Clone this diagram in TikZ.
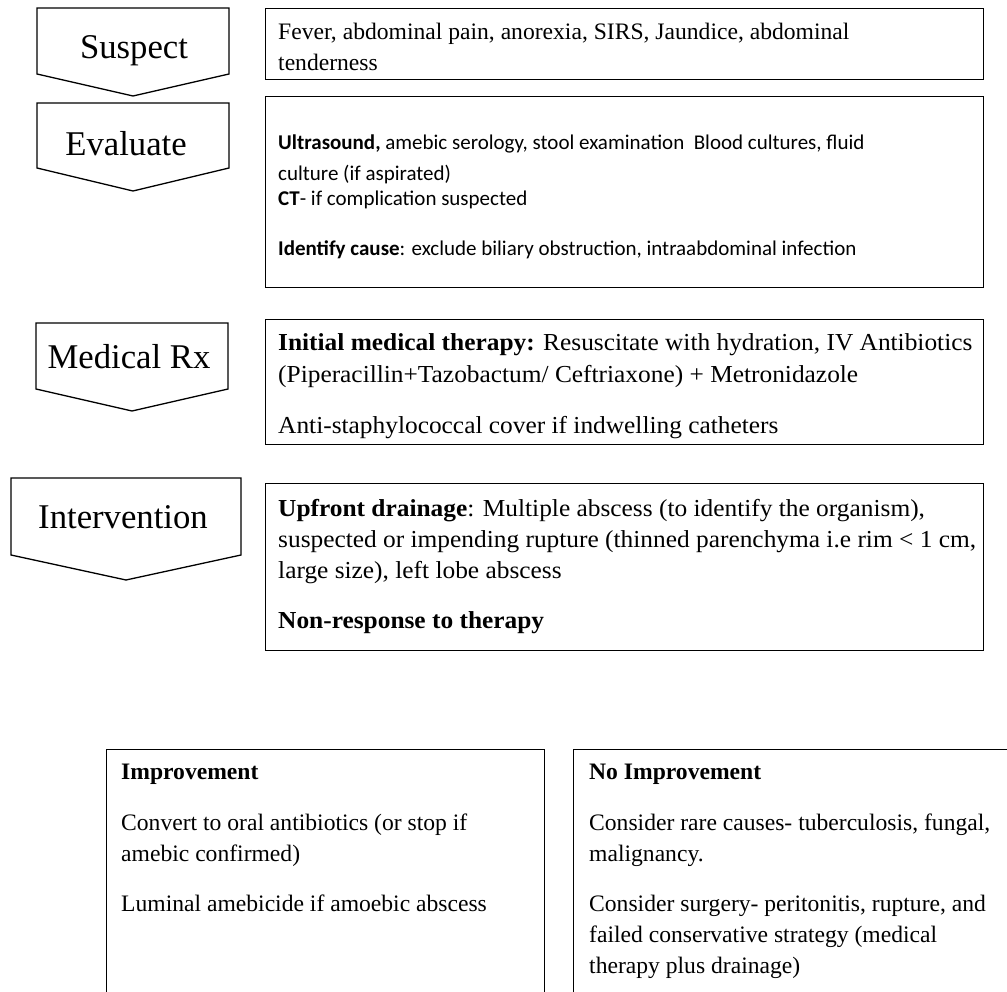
\documentclass[tikz,border=0pt]{standalone}
\usepackage{fontspec}
\setmainfont{Liberation Serif}
\newfontfamily\calfont{Carlito}
\newfontfamily\wideserif[FakeStretch=1.04]{Liberation Serif}
\begin{document}
\begin{tikzpicture}[x=1pt,y=-1pt,
  shapeline/.style={draw=black, line width=1.3pt, line join=miter},
  box/.style={shapeline, anchor=north west, inner sep=0pt},
  lbl/.style={anchor=base, inner sep=0pt, font=\fontsize{34.7}{40}\selectfont},
  tx/.style={anchor=base west, inner sep=0pt, font=\fontsize{23.6}{28}\selectfont},
  wx/.style={anchor=base west, inner sep=0pt, font=\wideserif\fontsize{24.4}{29}\selectfont},
  cx/.style={anchor=base west, inner sep=0pt, font=\calfont\fontsize{21}{26}\selectfont}]
\useasboundingbox (0,0) rectangle (1007,992);
\clip (0,0) rectangle (1007,992);

% pentagon arrows (stage labels)
\draw[shapeline] (37,8) -- (229,8) -- (229,74) -- (133,96) -- (37,74) -- cycle;
\node[lbl] (lsuspect) at (134,59) {Suspect};
\draw[shapeline] (37,103) -- (229,103) -- (229,168) -- (133,191) -- (37,168) -- cycle;
\node[lbl] (levaluate) at (126,156) {Evaluate};
\draw[shapeline] (36,323) -- (228,323) -- (228,389) -- (132,411) -- (36,389) -- cycle;
\node[lbl] (lmedical) at (129,369) {Medical Rx};
\draw[shapeline] (11,478) -- (241,478) -- (241,555) -- (126,580) -- (11,555) -- cycle;
\node[lbl] (lintervention) at (123,528) {Intervention};

% text boxes
\node[box, minimum width=718pt, minimum height=71pt] (bsuspect) at (265,8) {};
\node[box, minimum width=718pt, minimum height=191pt] (bevaluate) at (265,96) {};
\node[box, minimum width=718pt, minimum height=125pt] (bmedical) at (265,319) {};
\node[box, minimum width=718pt, minimum height=167pt] (bintervention) at (265,483) {};
\node[box, minimum width=438pt, minimum height=270pt] (bimprove) at (106,749) {};
\node[box, minimum width=460pt, minimum height=270pt] (bnoimprove) at (573,749) {};

% Suspect
\node[tx] (s1) at (278,40) {Fever, abdominal pain, anorexia, SIRS, Jaundice, abdominal};
\node[tx] (s2) at (278,71) {tenderness};

% Evaluate
\node[cx] (e1) at (278,150) {\textbf{Ultrasound,} amebic serology, stool examination\ \ Blood cultures, fluid};
\node[cx] (e2) at (278,181) {culture (if aspirated)};
\node[cx] (e3) at (278,206) {\textbf{CT}- if complication suspected};
\node[cx] (e4) at (278,256) {\textbf{Identify cause}: exclude biliary obstruction, intraabdominal infection};

% Medical Rx
\node[wx] (m1) at (278,351) {\textbf{Initial medical therapy:} Resuscitate with hydration, IV Antibiotics};
\node[wx] (m2) at (278,382) {(Piperacillin+Tazobactum/ Ceftriaxone) + Metronidazole};
\node[wx] (m3) at (278,433) {Anti-staphylococcal cover if indwelling catheters};

% Intervention
\node[wx] (i1) at (278,516) {\textbf{Upfront drainage}: Multiple abscess (to identify the organism),};
\node[wx] (i2) at (278,547) {suspected or impending rupture (thinned parenchyma i.e rim < 1 cm,};
\node[wx] (i3) at (278,578) {large size), left lobe abscess};
\node[wx] (i4) at (278,628) {\textbf{Non-response to therapy}};

% Improvement
\node[tx] (p1) at (121,779) {\textbf{Improvement}};
\node[tx] (p2) at (121,830) {Convert to oral antibiotics (or stop if};
\node[tx] (p3) at (121,861) {amebic confirmed)};
\node[tx] (p4) at (121,911) {Luminal amebicide if amoebic abscess};

% No Improvement
\node[tx] (n1) at (589,779) {\textbf{No Improvement}};
\node[tx] (n2) at (589,830) {Consider rare causes- tuberculosis, fungal,};
\node[tx] (n3) at (589,861) {malignancy.};
\node[tx] (n4) at (589,911) {Consider surgery- peritonitis, rupture, and};
\node[tx] (n5) at (589,942) {failed conservative strategy (medical};
\node[tx] (n6) at (589,973) {therapy plus drainage)};
\end{tikzpicture}
\end{document}
